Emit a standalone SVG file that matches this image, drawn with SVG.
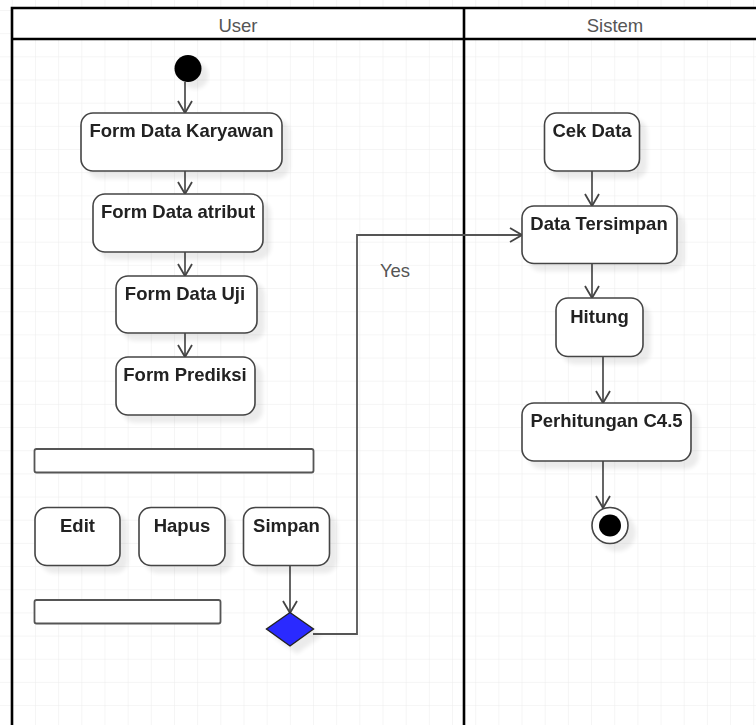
<svg xmlns="http://www.w3.org/2000/svg" width="756" height="725" viewBox="0 0 756 725">
  <defs>
    <pattern id="grid" x="11.8" y="10" width="23.17" height="23.17" patternUnits="userSpaceOnUse">
      <path d="M0 0 H23.17 M0 0 V23.17" fill="none" stroke="#ececec" stroke-width="1"/>
    </pattern>
    <filter id="shadow" x="-20%" y="-20%" width="150%" height="160%">
      <feGaussianBlur in="SourceAlpha" stdDeviation="2"/>
      <feOffset dx="7" dy="7" result="off"/>
      <feComponentTransfer><feFuncA type="linear" slope="0.08"/></feComponentTransfer>
      <feMerge><feMergeNode/><feMergeNode in="SourceGraphic"/></feMerge>
    </filter>
    <marker id="open" viewBox="0 0 14 16" refX="13" refY="8" markerWidth="14" markerHeight="16" markerUnits="userSpaceOnUse" orient="auto">
      <path d="M1 1 L13 8 L1 15" fill="none" stroke="#444" stroke-width="1.8"/>
    </marker>
  </defs>
  <style>
    .act { fill: #fff; stroke: #444; stroke-width: 1.6; }
    .bar { fill: #fff; stroke: #555; stroke-width: 1.8; }
    .lbl { font-family: "Liberation Sans", Arial, sans-serif; font-size: 18.5px; font-weight: bold; fill: #222; text-anchor: middle; }
    .hdr { font-family: "Liberation Sans", Arial, sans-serif; font-size: 18.5px; fill: #555; text-anchor: middle; }
    .lane { fill: none; stroke: #000; stroke-width: 2.6; }
    .flow { fill: none; stroke: #555; stroke-width: 1.8; marker-end: url(#open); }
    .wire { fill: none; stroke: #666; stroke-width: 1.8; }
  </style>

  <!-- canvas -->
  <rect width="756" height="725" fill="#fff"/>
  <rect width="756" height="725" fill="url(#grid)"/>

  <!-- swimlanes -->
  <g id="lanes">
    <rect x="12" y="8" width="750" height="31" fill="#fff"/>
    <path class="lane" d="M12 726 V8 H760 M12 39 H760 M464 8 V726"/>
    <text class="hdr" x="238" y="32">User</text>
    <text class="hdr" x="615" y="32">Sistem</text>
  </g>

  <!-- connectors -->
  <g id="connectors">
    <path class="flow" d="M185 82 V113"/>
    <path class="flow" d="M185 171 V194"/>
    <path class="flow" d="M185 252 V276"/>
    <path class="flow" d="M185 333 V357"/>
    <path class="flow" d="M290 566 V613"/>
    <path class="flow" d="M313 634 H357 V235 H522"/>
    <text class="hdr" x="395" y="277">Yes</text>
    <path class="flow" d="M592 171 V206"/>
    <path class="flow" d="M592 263 V298"/>
    <path class="flow" d="M603 357 V403"/>
    <path class="flow" d="M603 461 V508"/>
  </g>

  <!-- user lane -->
  <g id="start" filter="url(#shadow)">
    <circle cx="188" cy="68.5" r="13.5" fill="#000"/>
  </g>
  <g id="form-karyawan" filter="url(#shadow)">
    <rect class="act" x="81" y="113" width="201" height="58" rx="12"/>
    <text class="lbl" x="181.5" y="137">Form Data Karyawan</text>
  </g>
  <g id="form-atribut" filter="url(#shadow)">
    <rect class="act" x="93" y="194" width="170" height="58" rx="12"/>
    <text class="lbl" x="178" y="218">Form Data atribut</text>
  </g>
  <g id="form-uji" filter="url(#shadow)">
    <rect class="act" x="116" y="276" width="141" height="57" rx="12"/>
    <text class="lbl" x="185" y="299.5">Form Data Uji</text>
  </g>
  <g id="form-prediksi" filter="url(#shadow)">
    <rect class="act" x="116" y="357" width="139" height="58" rx="12"/>
    <text class="lbl" x="185" y="381">Form Prediksi</text>
  </g>
  <g id="bar-top">
    <rect class="bar" x="34.5" y="449" width="279" height="23.5" rx="2"/>
  </g>
  <g id="btn-edit" filter="url(#shadow)">
    <rect class="act" x="35" y="507.5" width="85" height="58" rx="12"/>
    <text class="lbl" x="77.5" y="531.5">Edit</text>
  </g>
  <g id="btn-hapus" filter="url(#shadow)">
    <rect class="act" x="139" y="507.5" width="86" height="58" rx="12"/>
    <text class="lbl" x="182" y="531.5">Hapus</text>
  </g>
  <g id="btn-simpan" filter="url(#shadow)">
    <rect class="act" x="243.5" y="507.5" width="86" height="58" rx="12"/>
    <text class="lbl" x="286.5" y="531.5">Simpan</text>
  </g>
  <g id="bar-bottom">
    <rect class="bar" x="34.5" y="600" width="186" height="23.5" rx="2"/>
  </g>
  <g id="decision" filter="url(#shadow)">
    <polygon points="290,612.5 313.5,629 290,646 266.5,629" fill="#2a2aff" stroke="#222" stroke-width="1.4"/>
  </g>

  <!-- system lane -->
  <g id="cek-data" filter="url(#shadow)">
    <rect class="act" x="544.5" y="113" width="95" height="58" rx="12"/>
    <text class="lbl" x="592" y="137">Cek Data</text>
  </g>
  <g id="data-tersimpan" filter="url(#shadow)">
    <rect class="act" x="522" y="206" width="155" height="57.5" rx="12"/>
    <text class="lbl" x="599" y="230">Data Tersimpan</text>
  </g>
  <g id="hitung" filter="url(#shadow)">
    <rect class="act" x="556" y="298" width="87" height="58.5" rx="12"/>
    <text class="lbl" x="599.5" y="323">Hitung</text>
  </g>
  <g id="perhitungan" filter="url(#shadow)">
    <rect class="act" x="522" y="403" width="169" height="58" rx="12"/>
    <text class="lbl" x="606.5" y="427">Perhitungan C4.5</text>
  </g>
  <g id="end" filter="url(#shadow)">
    <circle cx="610" cy="525.5" r="18" fill="#fff" stroke="#444" stroke-width="1.6"/>
    <circle cx="610" cy="525.5" r="11" fill="#000"/>
  </g>
</svg>
